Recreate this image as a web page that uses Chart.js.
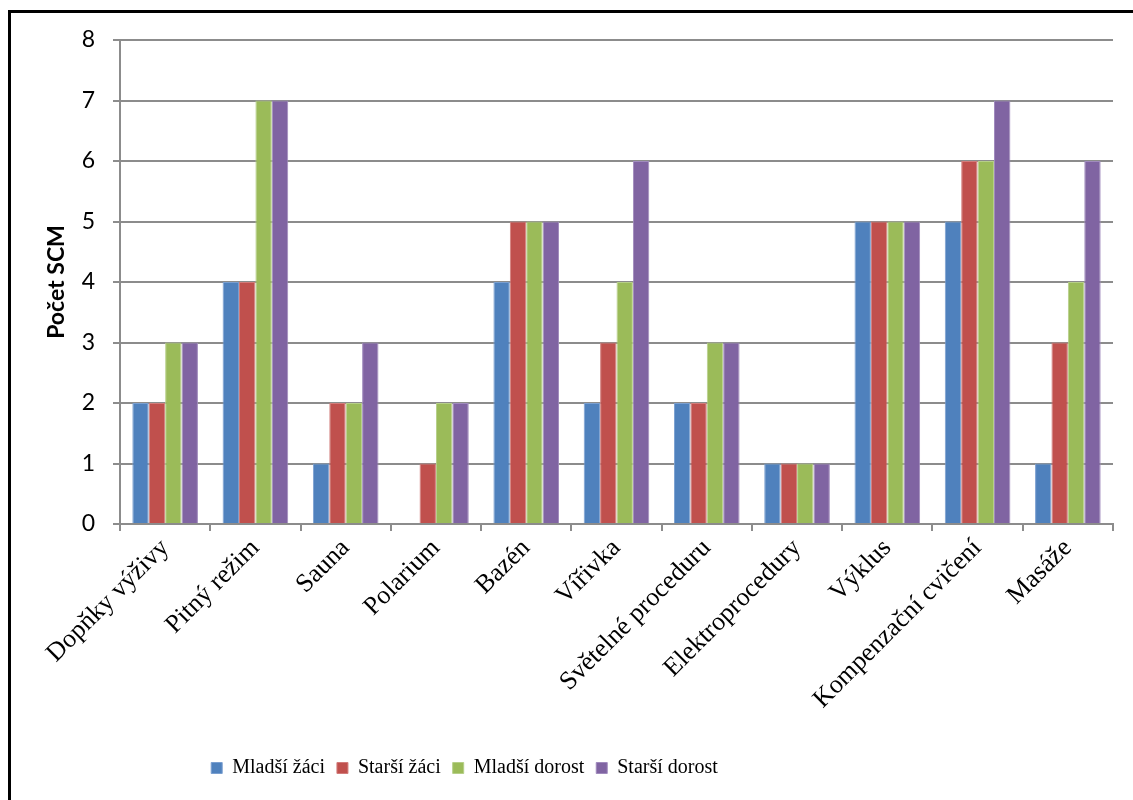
<!DOCTYPE html>
<html>
<head>
<meta charset="utf-8">
<script src="https://cdn.jsdelivr.net/npm/chart.js@4"></script>
<style>
  body { margin: 0; background: #fff; overflow: hidden; }
  #frame {
    position: absolute; left: 8px; top: 10px;
    width: 1200px; height: 900px;
    border: 3px solid #000;
  }
  #wrap { position: absolute; left: 0; top: 0; width: 1133px; height: 800px; }
</style>
</head>
<body>
<div id="frame"></div>
<div id="wrap"><canvas id="myChart"></canvas></div>
<script>
var categories = [
  "Dopňky výživy", "Pitný režim", "Sauna", "Polarium", "Bazén", "Vířivka",
  "Světelné proceduru", "Elektroprocedury", "Výklus", "Kompenzační cvičení", "Masáže"
];
var mladsiZaci   = [2, 4, 1, 0, 4, 2, 2, 1, 5, 5, 1];
var starsiZaci   = [2, 4, 2, 1, 5, 3, 2, 1, 5, 6, 3];
var mladsiDorost = [3, 7, 2, 2, 5, 4, 3, 1, 5, 6, 4];
var starsiDorost = [3, 7, 3, 2, 5, 6, 3, 1, 5, 7, 6];
var seriesNames = ["Mladší žáci", "Starší žáci", "Mladší dorost", "Starší dorost"];
var yTicks = [0, 1, 2, 3, 4, 5, 6, 7, 8];

// legend sits left of the canvas centre
var legendShift = {
  id: "legendShift",
  afterLayout: function(chart) {
    chart.legend.left -= 92;
    chart.legend.right -= 92;
  }
};

window.onload = function() {
  var fills = ["#4f81bd", "#c0504d", "#9bbb59", "#8064a2"];
  var edges = ["#7a9fd0", "#d27c7a", "#b6cf88", "#a08bbd"];
  var values = [mladsiZaci, starsiZaci, mladsiDorost, starsiDorost];

  var datasets = values.map(function(v, i) {
    return {
      label: seriesNames[i],
      data: v,
      backgroundColor: fills[i],
      borderColor: edges[i],
      borderWidth: 1,
      categoryPercentage: 0.727,
      barPercentage: 1
    };
  });

  const ctx = document.getElementById("myChart").getContext("2d");
  var chart = new Chart(ctx, {
    type: "bar",
    data: { labels: categories, datasets: datasets },
    plugins: [legendShift],
    options: {
      responsive: true,
      maintainAspectRatio: false,
      animation: false,
      layout: { padding: { left: 0, right: 20, top: 40, bottom: 12 } },
      plugins: {
        tooltip: { enabled: false },
        legend: {
          position: "bottom",
          labels: {
            boxWidth: 11,
            boxHeight: 11,
            padding: 12,
            color: "#000",
            font: { family: "'Liberation Serif'", size: 20 }
          }
        }
      },
      scales: {
        x: {
          afterFit: function(scale) { scale.height = 222; },
          border: { color: "#8c8c8c", width: 2 },
          grid: {
            offset: true,
            drawOnChartArea: false,
            drawTicks: true,
            tickLength: 7,
            color: "#8c8c8c",
            lineWidth: 2
          },
          ticks: {
            color: "#000",
            maxRotation: 45,
            minRotation: 45,
            autoSkip: false,
            padding: 2,
            font: { family: "'Liberation Serif'", size: 26 }
          }
        },
        y: {
          min: 0,
          max: 8,
          afterFit: function(scale) { scale.width = 120; },
          afterBuildTicks: function(scale) {
            scale.ticks = yTicks.map(function(t) { return { value: t }; });
          },
          border: { color: "#8c8c8c", width: 2 },
          grid: { color: "#8c8c8c", lineWidth: 2, tickLength: 7 },
          ticks: {
            color: "#000",
            padding: 18,
            font: { family: "Lato", size: 23 }
          },
          title: {
            display: true,
            text: "Počet SCM",
            color: "#000",
            padding: { top: 43, bottom: 0 },
            font: { family: "Lato", size: 23, weight: "bold" }
          }
        }
      }
    }
  });
};
</script>
</body>
</html>
